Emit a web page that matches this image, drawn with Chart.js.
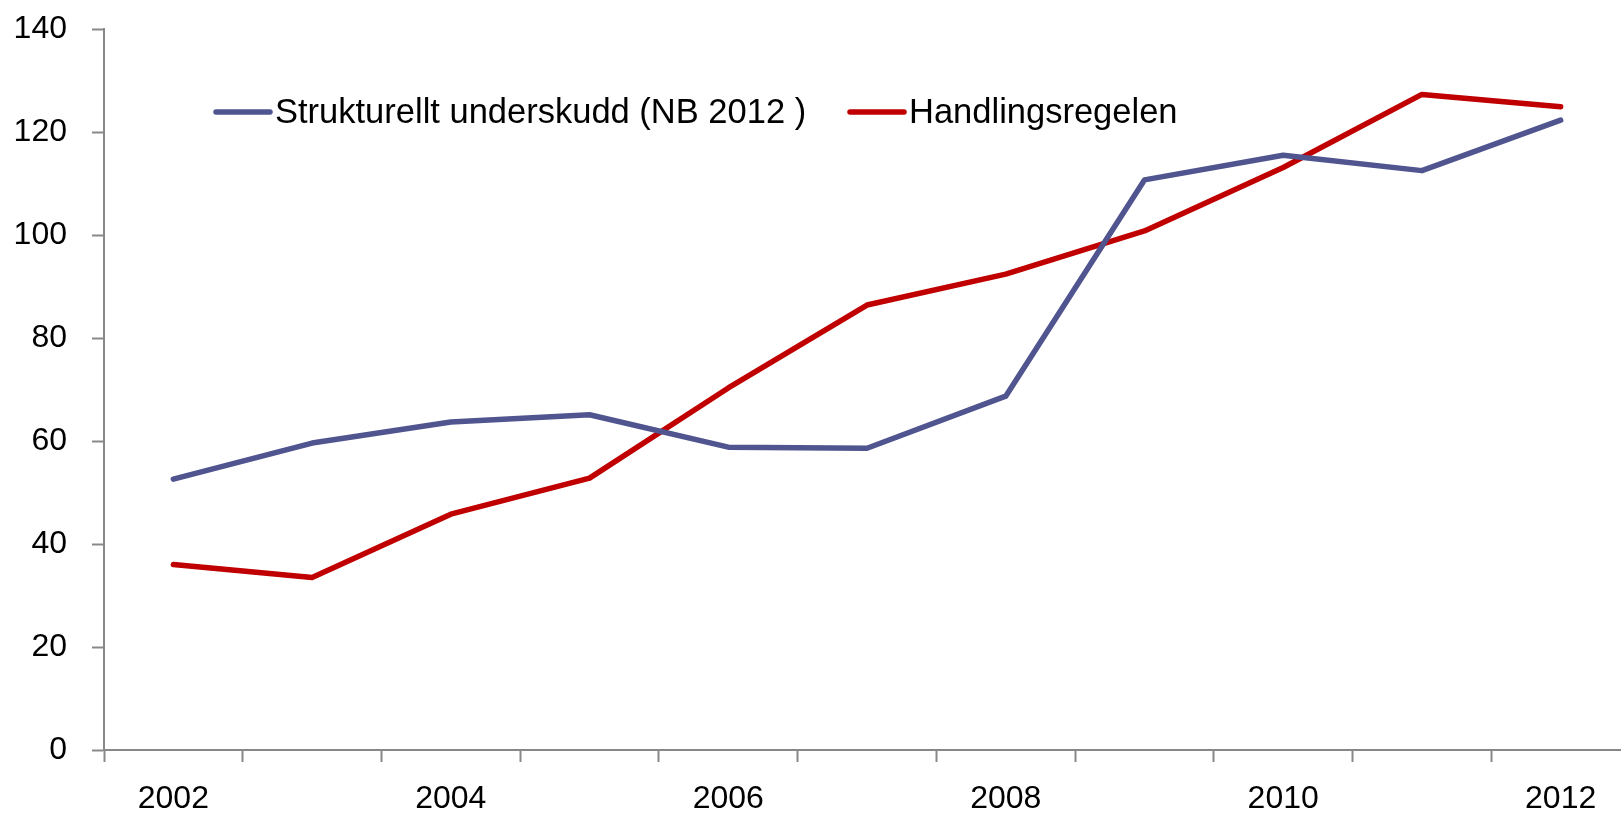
<!DOCTYPE html>
<html>
<head>
<meta charset="utf-8">
<script src="https://cdn.jsdelivr.net/npm/chart.js@4.4.1/dist/chart.umd.min.js"></script>
<style>
  html, body { margin: 0; padding: 0; background: #fff; overflow: hidden; }
  #wrap { width: 1640px; height: 814px; }
</style>
</head>
<body>
<div id="wrap"><canvas id="chart" width="1640" height="814"></canvas></div>
<script>
// Data
const years = ['2002', '2003', '2004', '2005', '2006', '2007', '2008', '2009', '2010', '2011', '2012'];
const strukturelltUnderskudd = [52.6, 59.6, 63.7, 65.1, 58.8, 58.6, 68.7, 110.7, 115.5, 112.5, 122.3];
const handlingsregelen = [36.0, 33.5, 45.8, 52.8, 70.3, 86.4, 92.4, 100.8, 113.1, 127.3, 124.9];
const yTicks = [0, 20, 40, 60, 80, 100, 120, 140];

const FONT = 'Liberation Sans';
const AXIS_COLOR = '#888888';

// legend drawn inside the plot, like the original
const innerLegend = {
    id: 'innerLegend',
    afterDraw(chart) {
        const ctx = chart.ctx;
        const y = 112;
        const starts = [216, 850];
        ctx.save();
        ctx.font = `34.5px "${FONT}"`;
        ctx.textBaseline = 'middle';
        ctx.textAlign = 'left';
        chart.data.datasets.forEach((ds, i) => {
            const x = starts[i];
            ctx.strokeStyle = ds.borderColor;
            ctx.lineWidth = 5.5;
            ctx.lineCap = 'round';
            ctx.beginPath();
            ctx.moveTo(x, y);
            ctx.lineTo(x + 54, y);
            ctx.stroke();
            ctx.fillStyle = '#000';
            ctx.fillText(ds.label, x + 59, y + 1);
        });
        ctx.restore();
    }
};

new Chart(document.getElementById('chart'), {
    type: 'line',
    data: {
        labels: years,
        datasets: [
            {
                label: 'Strukturellt underskudd (NB 2012 )',
                data: strukturelltUnderskudd,
                borderColor: '#50548f',
                borderWidth: 5.5,
                borderCapStyle: 'round',
                borderJoinStyle: 'round',
                pointRadius: 0,
                tension: 0,
                fill: false,
            },
            {
                label: 'Handlingsregelen',
                data: handlingsregelen,
                borderColor: '#c00000',
                borderWidth: 5.5,
                borderCapStyle: 'round',
                borderJoinStyle: 'round',
                pointRadius: 0,
                tension: 0,
                fill: false,
            }
        ]
    },
    options: {
        responsive: false,
        animation: false,
        layout: { padding: { top: 29, right: 10, left: 0, bottom: 0 } },
        plugins: { legend: { display: false }, tooltip: { enabled: false } },
        scales: {
            x: {
                offset: true,
                grid: {
                    offset: true,
                    drawOnChartArea: false,
                    drawTicks: true,
                    tickLength: 12,
                    tickWidth: 2,
                    tickColor: AXIS_COLOR,
                },
                border: { color: AXIS_COLOR, width: 2 },
                ticks: {
                    autoSkip: false,
                    maxRotation: 0,
                    padding: 18,
                    color: '#000',
                    font: { family: FONT, size: 32 },
                    callback: (v, i) => (i % 2 === 0 ? years[i] : ''),
                },
                afterFit: (scale) => {
                    scale.height = 64;
                    scale.paddingLeft = 0;
                    scale.paddingRight = 0;
                },
            },
            y: {
                min: 0,
                max: 140,
                afterBuildTicks: (scale) => { scale.ticks = yTicks.map(v => ({ value: v })); },
                grid: {
                    drawOnChartArea: false,
                    drawTicks: true,
                    tickLength: 12,
                    tickWidth: 2,
                    tickColor: AXIS_COLOR,
                },
                border: { color: AXIS_COLOR, width: 2 },
                ticks: {
                    padding: 25,
                    color: '#000',
                    font: { family: FONT, size: 32 },
                },
                afterFit: (scale) => {
                    scale.width = 104;
                    scale.paddingTop = 0;
                    scale.paddingBottom = 0;
                },
            }
        }
    },
    plugins: [innerLegend]
});
</script>
</body>
</html>
